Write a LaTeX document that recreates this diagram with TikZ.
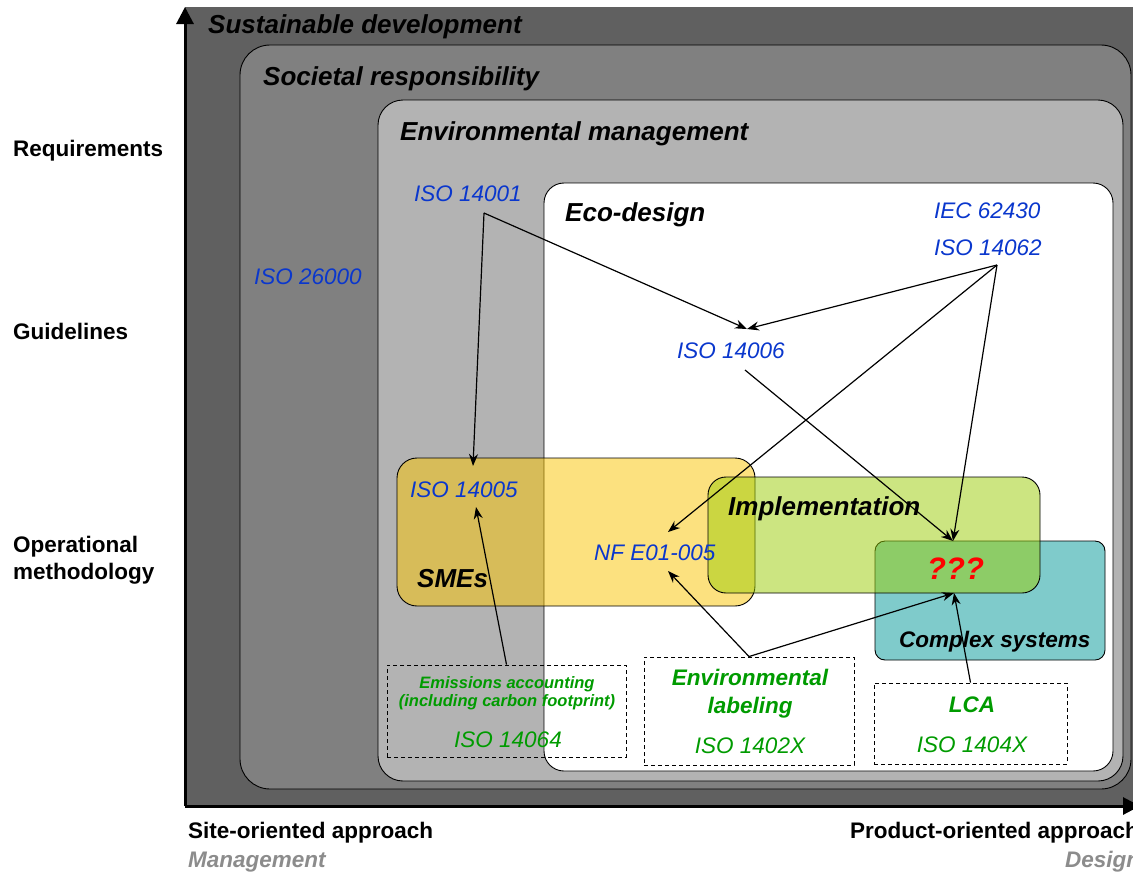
\documentclass[tikz,border=0pt]{standalone}
\usepackage{fontspec}
\setmainfont{Liberation Sans}
\usetikzlibrary{arrows.meta}
\definecolor{cdark}{RGB}{96,96,96}
\definecolor{cmid}{RGB}{128,128,128}
\definecolor{clight}{RGB}{179,179,179}
\definecolor{cyel}{RGB}{251,197,0}
\definecolor{cgrn}{RGB}{155,205,5}
\definecolor{cteal}{RGB}{127,203,203}
\definecolor{isoblue}{RGB}{10,55,205}
\definecolor{isogreen}{RGB}{0,155,0}
\definecolor{tgray}{RGB}{140,140,140}
\begin{document}
\begin{tikzpicture}[x=1pt,y=-1pt,
  heading/.style={font=\fontsize{26}{30}\selectfont\bfseries\itshape, anchor=base west, inner sep=0pt},
  side/.style={font=\fontsize{22.5}{27}\selectfont\bfseries, anchor=base west, inner sep=0pt},
  iso/.style={font=\fontsize{22.5}{27}\selectfont\itshape, text=isoblue, anchor=base west, inner sep=0pt},
  giso/.style={font=\fontsize{22.5}{27}\selectfont\itshape, text=isogreen, anchor=base, inner sep=0pt},
  gbold/.style={font=\fontsize{22.5}{27}\selectfont\bfseries\itshape, text=isogreen, anchor=base, inner sep=0pt},
  gsmall/.style={font=\fontsize{16.5}{20}\selectfont\bfseries\itshape, text=isogreen, anchor=base, inner sep=0pt},
  region/.style={draw=black, line width=0.9pt},
  dbox/.style={draw=black, dashed, dash pattern=on 4pt off 3pt, line width=0.9pt, inner sep=0pt},
  arr/.style={-{Stealth[length=12pt,width=9pt]}, line width=1.2pt},
  axis/.style={line width=3pt, -{Triangle[length=17pt,width=17pt]}}]
\useasboundingbox (0,0) rectangle (1133,871);
% outer region
\fill[cdark] (185,7) rectangle (1140,806);
% societal responsibility
\draw[region, fill=cmid, rounded corners=30pt] (240,45) rectangle (1131,789);
% environmental management
\draw[region, fill=clight, rounded corners=25pt] (378,100) rectangle (1123,781);
% eco-design
\draw[region, fill=white, rounded corners=20pt] (544,183) rectangle (1113,771);
% axes
\coordinate (O) at (185,806);
\coordinate (Ytop) at (185,7);
\coordinate (Xend) at (1140,806);
\draw[axis] (O) -- (Ytop);
\draw[axis] (O) -- (Xend);
% overlapping boxes
\draw[region, fill=cyel, fill opacity=0.5, rounded corners=20pt] (397,458) rectangle (755,606);
\draw[region, fill=cteal, rounded corners=10pt] (875,541) rectangle (1105,660);
\draw[region, fill=cgrn, fill opacity=0.5, rounded corners=18pt] (708,477) rectangle (1040,593);
% dashed boxes
\node[dbox, minimum width=239pt, minimum height=92pt] (emis) at (506.5,711) {};
\node[dbox, minimum width=210pt, minimum height=108pt] (label) at (749,711) {};
\node[dbox, minimum width=193pt, minimum height=81pt] (lca) at (970.5,723.5) {};
% headings
\node[heading] (tSD) at (208,33) {Sustainable development};
\node[heading] (tSR) at (263,85) {Societal responsibility};
\node[heading] (tEM) at (400,140) {Environmental management};
\node[heading] (tED) at (565,221) {Eco-design};
\node[heading] (tSME) at (417,587) {SMEs};
\node[heading] (tIMP) at (728,515) {Implementation};
\node[font=\fontsize{22.5}{27}\selectfont\bfseries\itshape, anchor=base west, inner sep=0pt] (tCS) at (899,647) {Complex systems};
\node[font=\fontsize{31}{36}\selectfont\bfseries\itshape, text=red, anchor=base west, inner sep=0pt] (tQ) at (927,579) {???};
% side labels
\node[side] (lReq) at (13,156) {Requirements};
\node[side] (lGui) at (13,339) {Guidelines};
\node[side] (lOp1) at (13,552) {Operational};
\node[side] (lOp2) at (13,579) {methodology};
% bottom labels
\node[side] (bSite) at (188,838) {Site-oriented approach};
\node[heading, font=\fontsize{22.5}{27}\selectfont\bfseries\itshape, text=tgray] (bMan) at (188,867) {Management};
\node[side] (bProd) at (850,838) {Product-oriented approach};
\node[heading, font=\fontsize{22.5}{27}\selectfont\bfseries\itshape, text=tgray] (bDes) at (1065,867) {Design};
% standards
\node[iso] (i26000) at (254,284) {ISO 26000};
\node[iso] (i14001) at (414,201) {ISO 14001};
\node[iso] (i62430) at (934,218) {IEC 62430};
\node[iso] (i14062) at (934,255) {ISO 14062};
\node[iso] (i14006) at (677,358) {ISO 14006};
\node[iso] (i14005) at (410,497) {ISO 14005};
\node[iso] (iNF) at (594,560) {NF E01-005};
% dashed box texts
\node[gsmall] (eA) at (507,688) {Emissions accounting};
\node[gsmall] (eB) at (507,706) {(including carbon footprint)};
\node[giso] (e14064) at (508,747) {ISO 14064};
\node[gbold] (lA) at (750,685) {Environmental};
\node[gbold] (lB) at (750,713) {labeling};
\node[giso] (l1402) at (750,753) {ISO 1402X};
\node[gbold] (cA) at (972,712) {LCA};
\node[giso] (c1404) at (972,752) {ISO 1404X};
% arrow coordinates
\coordinate (f14001) at (484,213);
\coordinate (f14062) at (997,265);
\coordinate (s14006) at (745,370);
\coordinate (h14005a) at (473,466);
\coordinate (h14005b) at (476,507);
\coordinate (h14006) at (747,329);
\coordinate (hNFa) at (668,532);
\coordinate (hNFb) at (668,571);
\coordinate (hQa) at (953,541);
\coordinate (hQb) at (954,593);
% arrows
\draw[arr] (f14001) -- (h14005a);
\draw[arr] (f14001) -- (h14006);
\draw[arr] (f14062) -- (h14006);
\draw[arr] (f14062) -- (hNFa);
\draw[arr] (f14062) -- (hQa);
\draw[arr] (s14006) -- (hQa);
\draw[arr] (emis.north) -- (h14005b);
\draw[arr] (label.north) -- (hNFb);
\draw[arr] (label.north) -- (hQb);
\draw[arr] (lca.north) -- (hQb);
\end{tikzpicture}
\end{document}
